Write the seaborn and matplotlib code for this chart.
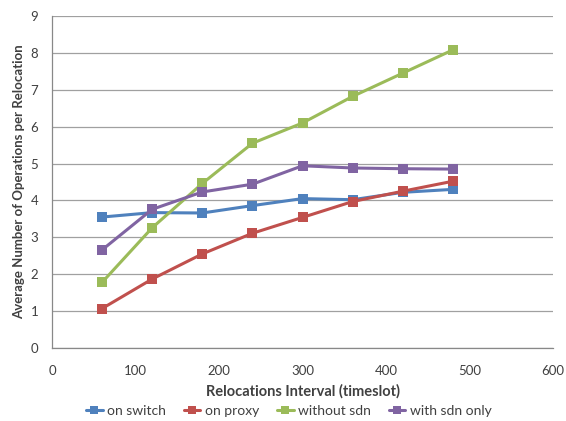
import matplotlib
matplotlib.use("Agg")
import matplotlib.pyplot as plt
import seaborn as sns
import pandas as pd

x_vals = [60, 120, 180, 240, 300, 360, 420, 480]
on_switch = [3.55, 3.67, 3.66, 3.86, 4.05, 4.02, 4.22, 4.30]
on_proxy = [1.07, 1.87, 2.55, 3.11, 3.54, 3.97, 4.25, 4.52]
without_sdn = [1.78, 3.26, 4.46, 5.55, 6.10, 6.82, 7.45, 8.08]
with_sdn_only = [2.66, 3.76, 4.23, 4.44, 4.94, 4.88, 4.86, 4.85]
series_names = ["on switch", "on proxy", "without sdn", "with sdn only"]
colors = ["#4F81BD", "#C0504D", "#9BBB59", "#8064A2"]

rows = []
for name, vals in zip(series_names, [on_switch, on_proxy, without_sdn, with_sdn_only]):
    for xv, yv in zip(x_vals, vals):
        rows.append({"x": xv, "y": yv, "series": name})
df = pd.DataFrame(rows)

sns.set_style("white")
plt.rcParams['font.family'] = ['Lato', 'DejaVu Sans']

fig = plt.figure(figsize=(5.66, 4.21), dpi=100)
ax = fig.add_axes([52/566, 1-348/421, (553-52)/566, (348-16)/421])

sns.lineplot(data=df, x="x", y="y", hue="series", palette=colors,
             marker="s", markersize=7, markeredgewidth=0, linewidth=2.2,
             ax=ax, legend=False)

ax.set_xlim(0, 600)
ax.set_ylim(0, 9)
ax.set_xticks(range(0, 601, 100))
ax.set_yticks(range(0, 10))
ax.tick_params(axis='both', labelsize=9.5, labelcolor='#404040', length=4, width=0.8,
               direction='out', color='#888888')
ax.tick_params(axis='x', pad=8)
ax.tick_params(axis='y', pad=6)
ax.yaxis.grid(True, color='#A0A0A0', linewidth=0.9)
ax.xaxis.grid(False)
for s in ['top', 'right']:
    ax.spines[s].set_visible(False)
for s in ['left', 'bottom']:
    ax.spines[s].set_color('#888888')
    ax.spines[s].set_linewidth(0.9)
ax.set_xlabel("Relocations Interval (timeslot)", fontsize=10.5, fontweight='bold', color='#404040', labelpad=5)
ax.set_ylabel("Average Number of Operations per Relocation", fontsize=9.5, fontweight='bold', color='#404040', labelpad=4)

from matplotlib.lines import Line2D
handles = [Line2D([0], [0], color=c, marker='s', markersize=6, linewidth=2.2, markeredgewidth=0) for c in colors]
fig.legend(handles, series_names, loc='center', bbox_to_anchor=(0.51, 10/421), ncol=4,
           frameon=False, fontsize=10, handlelength=1.2, columnspacing=1.3, handletextpad=0.3,
           labelcolor='#404040', borderpad=0)

fig.savefig("out.png", dpi=100)
